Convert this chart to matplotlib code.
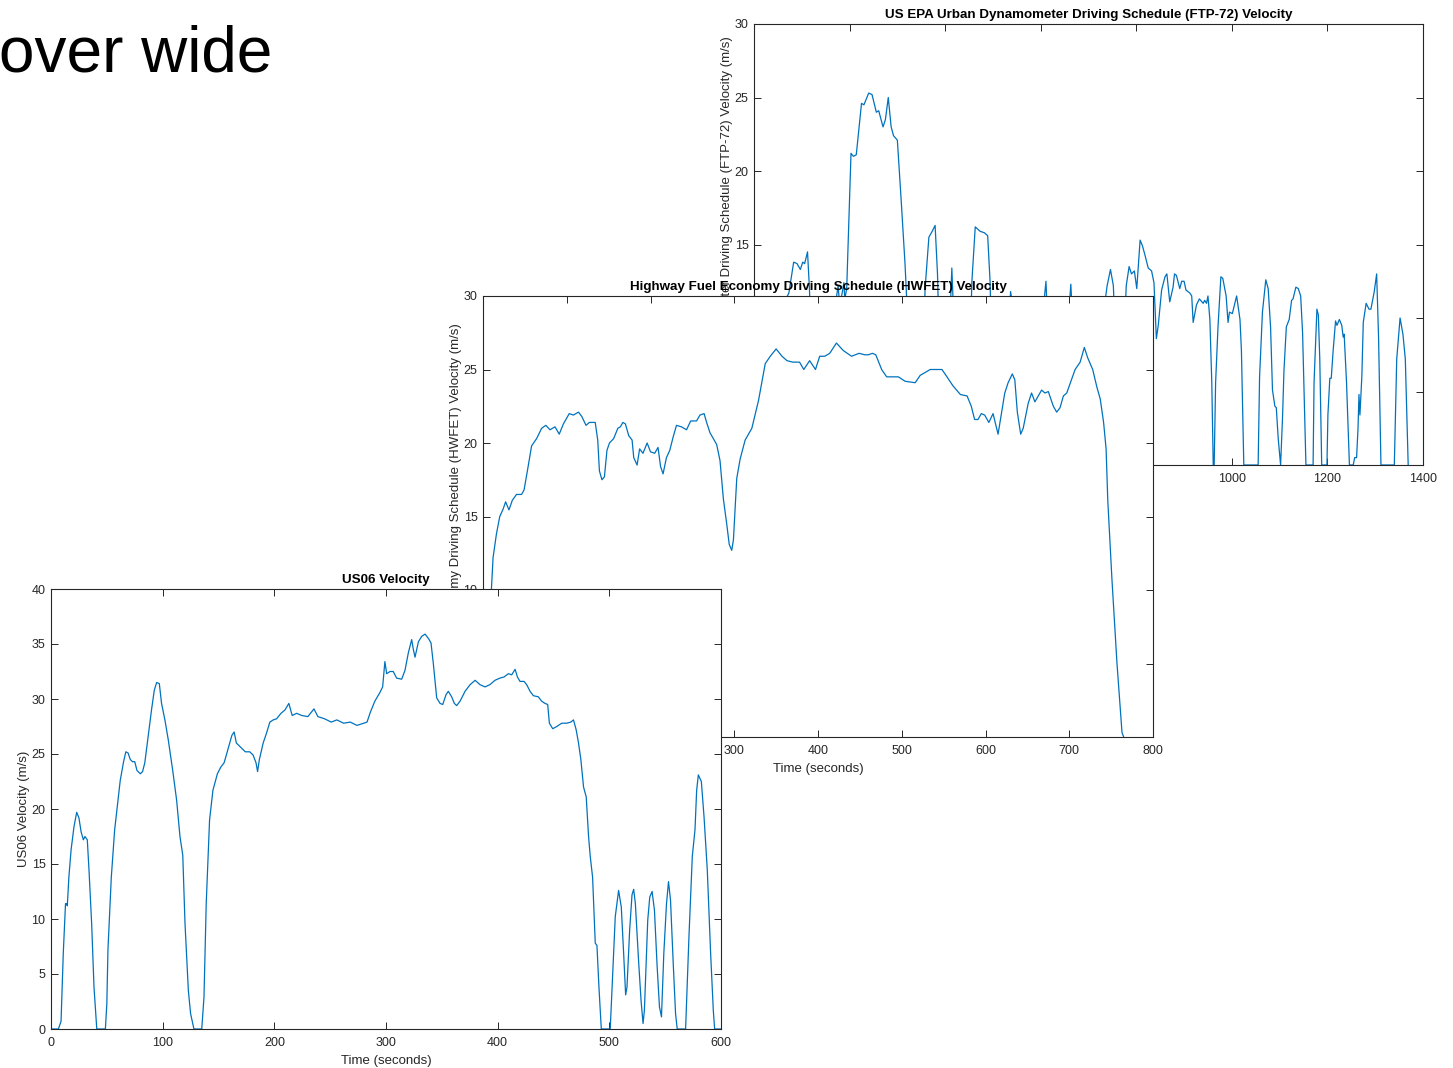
import matplotlib
matplotlib.use('Agg')
from matplotlib import pyplot as plt

plt.rcParams['font.family'] = ['Liberation Sans', 'DejaVu Sans']

# FTP-72 urban schedule (time s, velocity m/s)
ftp_t = [0, 20, 25, 35, 45, 55, 65, 73, 83, 90, 97, 102, 106, 112, 116, 120, 125, 130,
         163, 168, 173, 176, 179, 184, 188, 190, 194, 203, 208, 214, 225, 230, 240, 247,
         256, 261, 270, 275, 281, 287, 292, 300, 308, 316, 320, 325, 330,
         350, 355, 358, 366, 373, 379, 384, 388, 393, 405, 409, 414, 418, 422, 426,
         445, 452, 456, 463, 473, 482, 489, 494, 498, 503, 520, 530, 537, 545, 555, 562,
         580, 595, 605, 611, 614, 625, 635, 640, 648, 656, 663, 668, 676,
         700, 710, 730, 739, 746, 752, 757, 762, 768, 775, 779, 785, 790, 796, 801,
         808, 813, 818, 825, 832, 837, 842, 846, 853, 860, 864, 870, 877, 880, 884,
         891, 895, 900, 904, 912, 916, 919, 926, 932, 940, 943, 947, 950, 954, 958,
         961, 963, 966, 971, 977, 981, 988, 992, 995, 1001, 1010, 1017, 1020, 1025,
         1055, 1058, 1064, 1071, 1076, 1081, 1085, 1090, 1093, 1097, 1102, 1106, 1109,
         1114, 1120, 1125, 1128, 1134, 1139, 1144, 1148, 1155, 1170, 1172, 1178, 1181,
         1184, 1188, 1199, 1201, 1205, 1208, 1212, 1217, 1220, 1225, 1230, 1233, 1235,
         1240, 1246, 1254, 1257, 1261, 1264, 1266, 1268, 1272, 1275, 1281, 1287, 1291,
         1298, 1303, 1307, 1312, 1340, 1345, 1352, 1358, 1363, 1369]
ftp_v = [0, 0, 3, 7, 9, 10.5, 11.2, 11.7, 13.8, 13.7, 13.3, 13.8, 13.7, 14.5, 12.0, 8, 3, 0,
         0, 4, 11.5, 12.2, 11.0, 11.6, 12.4, 11.3, 12.0, 21.2, 21.0, 21.1, 24.6, 24.5, 25.3, 25.2,
         24.0, 24.1, 23.0, 23.5, 25.0, 23.0, 22.4, 22.1, 18.0, 13.7, 11.0, 6, 0,
         0, 8, 12.0, 15.5, 15.9, 16.3, 13.0, 8, 0, 0, 9, 13.4, 10, 4, 0,
         0, 8, 12.5, 16.2, 15.9, 15.8, 15.6, 12.5, 7, 0, 0, 8, 11.8, 10, 6, 0,
         0, 9, 10.5, 12.5, 10, 8, 3, 0, 0, 9, 12.3, 9, 0,
         0, 6, 10, 12.2, 13.3, 12.2, 8, 0, 0, 9, 12.2, 13.5, 13.0, 13.2, 12.0,
         15.3, 14.9, 14.3, 13.4, 13.2, 12.4, 8.6, 9.5, 11.9, 12.8, 13.0, 11.1, 12.1, 13.0, 12.9,
         12.0, 12.5, 12.5, 11.9, 11.7, 11.5, 9.7, 10.9, 11.3, 11.0, 11.2, 11.0, 11.5, 9.9, 5.6,
         0, 0, 5.6, 9.4, 12.8, 12.7, 11.5, 9.7, 10.4, 10.3, 11.5, 9.9, 7.8, 0,
         0, 6.0, 10.4, 12.6, 12.0, 9.4, 5.1, 4.0, 3.9, 1.8, 0, 3.2, 6.4,
         9.4, 9.9, 11.2, 11.3, 12.1, 12.0, 11.5, 9.0, 0, 0, 5.6, 10.6, 10.2,
         7.2, 0, 0, 3.4, 5.9, 5.9, 7.8, 9.8, 9.5, 9.9, 9.5, 8.7, 8.9,
         5.6, 0, 0, 0.5, 0.5, 2.5, 4.8, 3.4, 6.0, 9.7, 11.0, 10.6, 10.6,
         11.8, 13.0, 8.7, 0, 0, 7.2, 10.0, 8.9, 7.2, 0]

# HWFET highway schedule
hw_t = [0, 3, 6, 8, 10, 12, 16, 20, 24, 27, 31, 35, 40, 46, 49, 53, 58, 64, 70, 75, 80,
        86, 91, 96, 103, 108, 114, 118, 123, 127, 134, 137, 139, 142, 145, 148, 151, 156,
        161, 164, 167, 170, 174, 178, 180, 184, 187, 191, 196, 200, 205, 209, 212, 215,
        219, 223, 227, 231, 237, 243, 248, 255, 259, 264, 267, 271, 279, 283, 287, 291,
        294, 297, 299, 303, 307, 313, 321, 329, 337, 343, 350, 357, 363, 370, 378, 383,
        390, 397, 402, 408, 414, 422, 430, 440, 449, 456, 460, 465, 469, 476, 482, 488,
        496, 504, 516, 522, 534, 548, 554, 561, 570, 578, 583, 587, 591, 595, 599, 604,
        609, 615, 623, 627, 632, 635, 638, 642, 645, 651, 655, 659, 667, 671, 675, 681,
        685, 689, 693, 697, 702, 707, 713, 718, 722, 728, 733, 737, 741, 744, 746, 751,
        757, 763, 765]
hw_v = [0, 2, 5.5, 8, 10.0, 12.2, 13.8, 15.0, 15.5, 16.0, 15.45, 16.1, 16.5, 16.5, 16.8,
        18.1, 19.8, 20.3, 21.0, 21.2, 20.9, 21.1, 20.6, 21.3, 22.0, 21.9, 22.1, 21.8, 21.2,
        21.4, 21.4, 20.2, 18.1, 17.5, 17.7, 19.5, 20.0, 20.3, 21.0, 21.1, 21.4, 21.3, 20.5,
        20.2, 19.0, 18.5, 19.6, 19.3, 20.0, 19.4, 19.3, 19.7, 18.4, 17.9, 19.0, 19.5, 20.4,
        21.2, 21.1, 20.9, 21.5, 21.5, 21.9, 22.0, 21.4, 20.7, 19.9, 18.8, 16.2, 14.5, 13.1,
        12.7, 13.4, 17.6, 18.9, 20.2, 21.0, 22.9, 25.4, 25.9, 26.4, 25.9, 25.6, 25.5, 25.5,
        25.0, 25.6, 25.0, 25.9, 25.9, 26.1, 26.8, 26.3, 25.9, 26.1, 26.0, 26.0, 26.1, 26.0,
        25.0, 24.5, 24.5, 24.5, 24.2, 24.1, 24.6, 25.0, 25.0, 24.5, 23.9, 23.3, 23.2, 22.5,
        21.6, 21.6, 22.0, 21.9, 21.4, 22.0, 20.6, 23.4, 24.1, 24.7, 24.3, 22.1, 20.6, 21.0,
        22.7, 23.4, 22.8, 23.6, 23.4, 23.5, 22.5, 22.1, 22.4, 23.2, 23.4, 24.2, 25.0, 25.5,
        26.5, 25.8, 25.0, 23.8, 23.0, 21.4, 19.6, 16.1, 10.7, 5.0, 0.3, 0]

# US06 aggressive schedule
us_t = [0, 6.6, 9, 11, 13, 14, 14.6, 16, 18, 20.6, 23, 25, 27, 29, 30.4, 32.5, 34, 36.4,
        38.5, 41, 48.7, 50, 51, 54, 57, 60, 62, 65, 67, 69, 71, 73, 75, 77, 80, 82, 84, 87,
        90, 92.5, 94.6, 97, 99, 102, 105, 109, 112.5, 115.5, 118, 120, 123, 125, 128, 135,
        137, 139, 142, 145, 149, 152, 155, 157, 160, 162, 164, 166, 169, 174, 178, 181,
        183.6, 185, 186.6, 190, 193, 196, 199, 202, 206, 209.5, 213, 216, 220, 224.5, 230,
        235.5, 239, 245, 251, 256, 262, 268, 274, 280, 283, 286, 290, 294.6, 297, 299,
        300.6, 303.6, 306.5, 309.5, 314, 317, 320, 323, 324.5, 326, 329, 332, 335, 338,
        340.3, 342.4, 345.4, 348.4, 350.8, 353.8, 355.8, 358.8, 361.2, 363.3, 366.3, 370.8,
        375.3, 379.8, 384.2, 388.7, 393, 397.6, 402, 405.7, 409.6, 412.6, 415.6, 417.7, 420,
        423.6, 426, 429, 432, 436.4, 439.4, 442.4, 444.8, 446.3, 449.3, 452.9, 457.4, 461.9,
        465.5, 467.9, 470.3, 472.4, 474.5, 476.9, 479.3, 481.4, 482.9, 485, 487.4, 488.9,
        490.7, 492.8, 500.8, 503.2, 505.3, 508.3, 510.7, 512.8, 514.6, 515.8, 518.2, 520.3,
        521.8, 523.3, 526.3, 528.4, 530.2, 531.4, 534.4, 536.2, 538.3, 540.4, 542.8, 544.9,
        546.7, 548.8, 551.2, 553, 554.8, 557.2, 559.3, 560.8, 568.3, 571.3, 574.3, 576.7,
        578.2, 579.7, 582.4, 584.8, 587.7, 590.7, 593.1, 594.3, 600]
us_v = [0, 0, 0.7, 6.9, 11.4, 11.4, 11.2, 13.8, 16.3, 18.4, 19.7, 19.2, 17.9, 17.2, 17.5,
        17.2, 14.5, 9.6, 3.8, 0, 0, 2.3, 7.2, 13.8, 18.1, 20.8, 22.6, 24.3, 25.2, 25.1, 24.5,
        24.3, 24.3, 23.5, 23.2, 23.4, 24.2, 26.6, 29.0, 30.8, 31.5, 31.4, 29.6, 28.1, 26.3,
        23.5, 20.8, 17.5, 15.8, 9.6, 3.5, 1.4, 0, 0, 2.9, 11.4, 19.0, 21.7, 23.2, 23.8, 24.2,
        24.9, 26.0, 26.7, 27.0, 26.0, 25.7, 25.2, 25.2, 24.9, 24.2, 23.4, 24.5, 26.0, 26.9,
        27.9, 28.1, 28.2, 28.7, 29.0, 29.6, 28.5, 28.7, 28.5, 28.4, 29.1, 28.4, 28.2, 27.9,
        28.1, 27.8, 27.9, 27.6, 27.8, 27.9, 28.8, 29.8, 30.6, 31.1, 33.4, 32.3, 32.5, 32.5,
        31.9, 31.8, 32.6, 34.2, 35.4, 34.5, 33.8, 35.2, 35.7, 35.9, 35.5, 35.1, 33.2, 30.1,
        29.6, 29.5, 30.4, 30.7, 30.2, 29.6, 29.4, 29.8, 30.7, 31.3, 31.7, 31.3, 31.1, 31.3,
        31.7, 31.9, 32.0, 32.3, 32.2, 32.7, 32.0, 31.6, 31.6, 31.3, 30.7, 30.3, 30.2, 29.8,
        29.6, 29.5, 27.8, 27.3, 27.5, 27.8, 27.8, 27.9, 28.1, 27.2, 26.0, 24.5, 22.0, 21.1,
        17.5, 15.7, 13.8, 7.8, 7.6, 3.8, 0, 0, 5.4, 10.2, 12.6, 11.1, 6.9, 3.1, 3.8, 9.0,
        12.2, 12.7, 11.4, 6.0, 2.6, 0.5, 1.7, 9.9, 12.0, 12.5, 10.8, 5.7, 2.0, 1.1, 6.9,
        11.4, 13.4, 11.7, 6.0, 1.4, 0, 0, 8.4, 15.7, 18.1, 21.7, 23.1, 22.5, 19.3, 14.5,
        6.9, 1.7, 0, 0]

W, H = 1453, 1068
line_c = '#0072BD'
ax_c = '#262626'

fig = plt.figure(figsize=(W / 100, H / 100), dpi=100)
fig.text(-1 / W, 1 - 72 / H, 'over wide', fontsize=46, color='black',
         ha='left', va='baseline')


def box(px_left, px_top, px_right, px_bottom):
    return [px_left / W, 1 - px_bottom / H, (px_right - px_left) / W,
            (px_bottom - px_top) / H]


def matlab_axes(rect, t, v, xmax, ymax, xstep, title, ylabel):
    ax = fig.add_axes(rect)
    ax.set_facecolor('white')
    ax.plot(t, v, color=line_c, lw=0.9)
    ax.set_xlim(0, xmax)
    ax.set_ylim(0, ymax)
    ax.set_xticks(range(0, xmax + 1, xstep))
    ax.set_yticks(range(0, ymax + 1, 5))
    ax.tick_params(direction='in', length=5, width=0.7, top=True, right=True,
                   labelsize=9, colors=ax_c)
    ax.tick_params(axis='x', pad=6)
    ax.tick_params(axis='y', pad=4)
    for s in ax.spines.values():
        s.set_linewidth(0.8)
        s.set_color(ax_c)
    ax.set_title(title, fontsize=9.6, fontweight='bold', pad=4)
    ax.set_xlabel('Time (seconds)', fontsize=9.5, color=ax_c, labelpad=4)
    ax.set_ylabel(ylabel, fontsize=9.5, color=ax_c, labelpad=1)
    return ax


matlab_axes(box(754, 24, 1423, 465), ftp_t, ftp_v, 1400, 30, 200,
            'US EPA Urban Dynamometer Driving Schedule (FTP-72) Velocity',
            'US EPA Urban Dynamometer Driving Schedule (FTP-72) Velocity (m/s)')
matlab_axes(box(483, 296, 1153, 737), hw_t, hw_v, 800, 30, 100,
            'Highway Fuel Economy Driving Schedule (HWFET) Velocity',
            'Highway Fuel Economy Driving Schedule (HWFET) Velocity (m/s)')
matlab_axes(box(51, 589, 721, 1029), us_t, us_v, 600, 40, 100,
            'US06 Velocity', 'US06 Velocity (m/s)')

fig.savefig('out.png', dpi=100)
